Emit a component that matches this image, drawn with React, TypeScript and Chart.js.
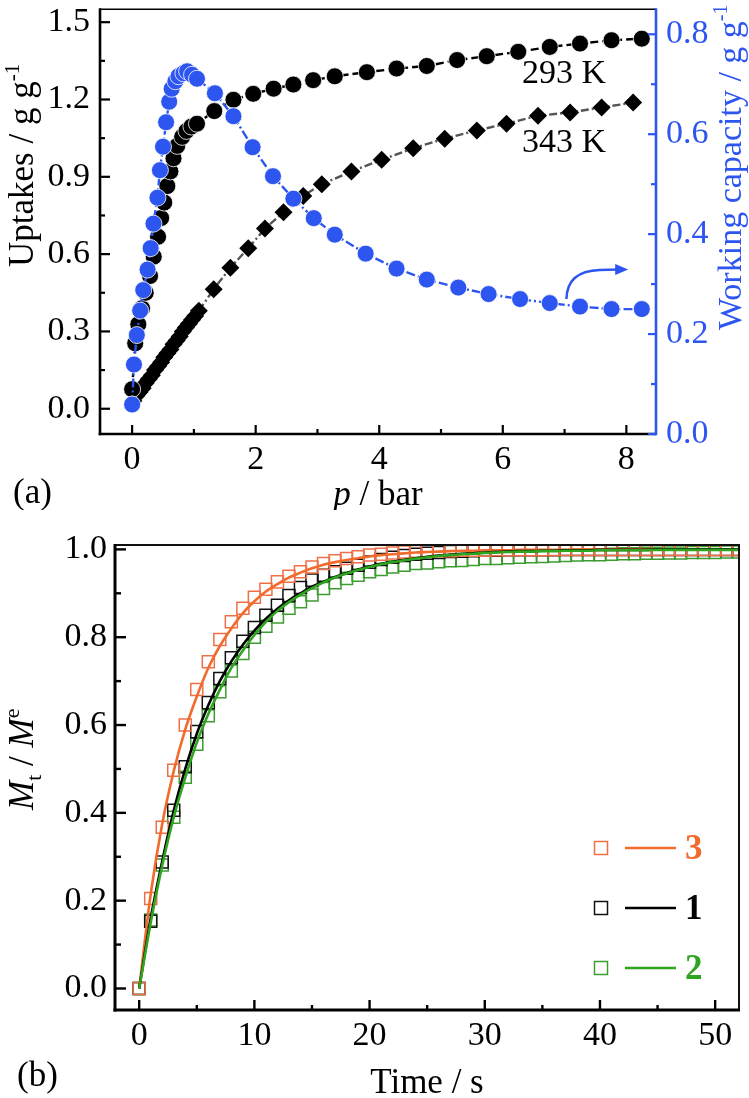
import React, { useEffect, useRef } from "react";
import { Chart, registerables } from "chart.js";

Chart.register(...registerables);

const FONT = "'Liberation Serif', 'Times New Roman', Times, serif";
const BLUE = "#2d55f0";
const ORANGE = "#f26a2c";
const ORANGE_SQ = "#ee7048";
const GREEN = "#2fa41f";
const GREEN_SQ = "#3c9c30";

// ---------- Panel (a) data ----------
const P_293 = [0.0, 0.05, 0.10, 0.16, 0.22, 0.29, 0.35, 0.42, 0.47, 0.52, 0.57, 0.62, 0.67, 0.73, 0.81, 0.88, 0.96, 1.05, 1.33, 1.64, 1.96, 2.29, 2.61, 2.93, 3.28, 3.8, 4.28, 4.77, 5.26, 5.74, 6.25, 6.76, 7.25, 7.76, 8.25];
const U_293 = [0.076, 0.254, 0.328, 0.39, 0.45, 0.515, 0.59, 0.667, 0.74, 0.80, 0.864, 0.921, 0.972, 1.02, 1.055, 1.078, 1.095, 1.106, 1.155, 1.199, 1.222, 1.242, 1.258, 1.275, 1.29, 1.306, 1.32, 1.33, 1.353, 1.368, 1.385, 1.404, 1.417, 1.43, 1.436];

const P_343 = [0.02, 0.07, 0.12, 0.17, 0.22, 0.27, 0.32, 0.37, 0.42, 0.47, 0.52, 0.57, 0.62, 0.67, 0.72, 0.77, 0.82, 0.87, 0.92, 0.97, 1.02, 1.08, 1.32, 1.59, 1.88, 2.15, 2.45, 2.77, 3.07, 3.55, 4.04, 4.55, 5.06, 5.58, 6.06, 6.57, 7.09, 7.6, 8.11];
const U_343 = [0.03, 0.05, 0.065, 0.08, 0.10, 0.115, 0.13, 0.15, 0.165, 0.18, 0.20, 0.215, 0.23, 0.25, 0.265, 0.28, 0.30, 0.315, 0.33, 0.345, 0.36, 0.38, 0.464, 0.547, 0.623, 0.699, 0.762, 0.826, 0.871, 0.921, 0.966, 1.011, 1.048, 1.08, 1.106, 1.137, 1.15, 1.169, 1.188];

const P_WC = [0.0, 0.03, 0.076, 0.13, 0.18, 0.25, 0.30, 0.345, 0.41, 0.45, 0.50, 0.55, 0.60, 0.64, 0.70, 0.75, 0.83, 0.89, 0.97, 1.05, 1.34, 1.64, 1.95, 2.28, 2.61, 2.94, 3.28, 3.78, 4.28, 4.77, 5.28, 5.77, 6.28, 6.76, 7.25, 7.76, 8.25];
const WC = [0.059, 0.139, 0.198, 0.247, 0.288, 0.329, 0.372, 0.421, 0.473, 0.528, 0.575, 0.624, 0.665, 0.691, 0.706, 0.716, 0.722, 0.726, 0.719, 0.711, 0.682, 0.636, 0.574, 0.516, 0.471, 0.432, 0.399, 0.361, 0.331, 0.309, 0.293, 0.28, 0.27, 0.262, 0.255, 0.25, 0.25];

const A_X_TICKS = [0, 2, 4, 6, 8];
const A_X_MINOR = [1, 3, 5, 7];
const A_Y_TICKS = [0, 0.3, 0.6, 0.9, 1.2, 1.5];
const A_Y_MINOR = [0.15, 0.45, 0.75, 1.05, 1.35];
const A_Y1_TICKS = [0, 0.2, 0.4, 0.6, 0.8];
const A_Y1_MINOR = [0.1, 0.3, 0.5, 0.7];

const LABEL_293 = { x: 6.31, y: 1.264, text: "293 K" };
const LABEL_343 = { x: 6.31, y: 0.997, text: "343 K" };
const ARROW_START = [7.03, 0.27];
const ARROW_CTRL = [7.04, 0.326];
const ARROW_MID = [7.57, 0.328];
const ARROW_TIP = [8.03, 0.329];

// ---------- Panel (b) data ----------
const TIME = [0, 1, 2, 3, 4, 5, 6, 7, 8, 9, 10, 11, 12, 13, 14, 15, 16, 17, 18, 19, 20, 21, 22, 23, 24, 25, 26, 27, 28, 29, 30, 31, 32, 33, 34, 35, 36, 37, 38, 39, 40, 41, 42, 43, 44, 45, 46, 47, 48, 49, 50, 51, 52];

const S3_DATA = [0, 0.205, 0.367, 0.497, 0.600, 0.681, 0.744, 0.795, 0.835, 0.866, 0.891, 0.909, 0.926,
  0.939, 0.949, 0.960, 0.968, 0.974, 0.979, 0.983, 0.987, 0.989, 0.992, 0.994,
  0.995, 0.996, 0.997, 0.997, 0.998, 0.998, 0.998, 0.999, 0.999, 0.999, 0.999, 0.999, 1.0, 1.0, 1.0, 1.0, 1.0, 1.0, 1.0, 1.0, 1.0, 1.0, 1.0, 1.0, 1.0, 1.0, 1.0, 1.0, 1.0];
const S1_DATA = [0, 0.153, 0.288, 0.406, 0.505, 0.585, 0.651, 0.706, 0.753, 0.791, 0.822, 0.850, 0.873,
  0.895, 0.913, 0.930, 0.941, 0.949, 0.957, 0.964, 0.971, 0.977, 0.982, 0.986,
  0.989, 0.991, 0.993, 0.995, 0.996, 0.997, 0.998, 0.998, 0.999, 0.999, 0.999, 0.999, 0.999, 1.0, 1.0, 1.0, 1.0, 1.0, 1.0, 1.0, 1.0, 1.0, 1.0, 1.0, 1.0, 1.0, 1.0, 1.0, 1.0];
const S2_DATA = [0, 0.156, 0.281, 0.390, 0.481, 0.556, 0.621, 0.676, 0.723, 0.763, 0.800, 0.825, 0.846,
  0.866, 0.881, 0.896, 0.911, 0.924, 0.934, 0.941, 0.949, 0.954, 0.960, 0.964, 0.968, 0.969, 0.972, 0.974, 0.975, 0.977, 0.979, 0.979,
  0.981, 0.982, 0.983, 0.984, 0.985, 0.986, 0.987, 0.988, 0.988, 0.989, 0.990, 0.990, 0.991, 0.991, 0.992, 0.992, 0.993, 0.993, 0.993, 0.994, 0.994];

const S3_FIT = [0, 0.215, 0.375, 0.495, 0.59, 0.665, 0.73, 0.78, 0.82, 0.855, 0.882, 0.904, 0.921,
  0.936, 0.947, 0.957, 0.965, 0.971, 0.976, 0.98, 0.984, 0.987, 0.989, 0.991,
  0.993, 0.994, 0.995, 0.996, 0.997, 0.997, 0.998, 0.998, 0.998, 0.999, 0.999, 0.999, 0.999, 0.999, 1.0, 1.0, 1.0, 1.0, 1.0, 1.0, 1.0, 1.0, 1.0, 1.0, 1.0, 1.0, 1.0, 1.0, 1.0];
const S1_FIT = [0, 0.16, 0.29, 0.405, 0.5, 0.58, 0.645, 0.70, 0.745, 0.783, 0.815, 0.842, 0.865,
  0.884, 0.90, 0.915, 0.926, 0.937, 0.946, 0.954, 0.961, 0.967, 0.972, 0.976,
  0.98, 0.983, 0.986, 0.988, 0.99, 0.991, 0.993, 0.994, 0.995, 0.996, 0.996, 0.997, 0.997, 0.998, 0.998, 0.998, 0.999, 0.999, 0.999, 0.999, 0.999, 1.0, 1.0, 1.0, 1.0, 1.0, 1.0, 1.0, 1.0];
const S2_FIT = [0, 0.15, 0.28, 0.39, 0.48, 0.56, 0.625, 0.68, 0.73, 0.77, 0.805, 0.835, 0.86,
  0.88, 0.897, 0.912, 0.925, 0.936, 0.945, 0.953, 0.96, 0.966, 0.971, 0.975,
  0.979, 0.982, 0.985, 0.987, 0.989, 0.99, 0.992, 0.993, 0.994, 0.995, 0.995, 0.996, 0.996, 0.997, 0.997, 0.997, 0.998, 0.998, 0.998, 0.998, 0.998, 0.999, 0.999, 0.999, 0.999, 0.999, 0.999, 0.999, 0.999];

const B_X_TICKS = [0, 10, 20, 30, 40, 50];
const B_X_MINOR = [5, 15, 25, 35, 45];
const B_Y_TICKS = [0, 0.2, 0.4, 0.6, 0.8, 1.0];
const B_Y_MINOR = [0.1, 0.3, 0.5, 0.7, 0.9];

const LEGEND_B = [
  { label: "3", color: ORANGE, sq: ORANGE_SQ },
  { label: "1", color: "#000", sq: "#111" },
  { label: "2", color: GREEN, sq: GREEN_SQ },
];

// ---------- helpers ----------
function seg(ctx: any, x1: number, y1: number, x2: number, y2: number) {
  ctx.beginPath();
  ctx.moveTo(x1, y1);
  ctx.lineTo(x2, y2);
  ctx.stroke();
}

function rotTitle(ctx: any, x: number, yBottom: number, parts: any[], color: string) {
  ctx.save();
  ctx.translate(x, yBottom);
  ctx.rotate(-Math.PI / 2);
  ctx.fillStyle = color;
  ctx.textAlign = "left";
  ctx.textBaseline = "alphabetic";
  let cx = 0;
  for (const p of parts) {
    ctx.font = p.font;
    ctx.fillText(p.text, cx, p.dy || 0);
    cx += ctx.measureText(p.text).width;
  }
  ctx.restore();
}

function pts(xs: number[], ys: number[]) {
  return xs.map((x, i) => ({ x, y: ys[i] }));
}

function fixedScale(ticks: number[], size: number, horizontal: boolean) {
  return {
    afterBuildTicks: (s: any) => {
      s.ticks = ticks.map((v) => ({ value: v }));
    },
    afterFit: (s: any) => {
      if (horizontal) s.height = size;
      else s.width = size;
      s.paddingTop = 0;
      s.paddingBottom = 0;
      s.paddingLeft = 0;
      s.paddingRight = 0;
    },
  };
}

const panelAPlugin = {
  id: "panelA",
  afterDraw(chart: any) {
    const { ctx, chartArea: ca, scales } = chart;
    const sx = scales.x, sy = scales.y, sy1 = scales.y1;
    ctx.save();
    ctx.lineCap = "butt";
    // frame
    ctx.strokeStyle = "#000";
    ctx.lineWidth = 1.6;
    seg(ctx, ca.left, ca.top, ca.right, ca.top);
    ctx.lineWidth = 2.6;
    seg(ctx, ca.left, ca.top - 1, ca.left, ca.bottom + 1.3);
    seg(ctx, ca.left - 1.3, ca.bottom, ca.right, ca.bottom);
    ctx.strokeStyle = BLUE;
    seg(ctx, ca.right, ca.top - 1, ca.right, ca.bottom + 1.3);
    // ticks
    ctx.lineWidth = 2.2;
    ctx.strokeStyle = "#000";
    A_X_TICKS.forEach((v) => { const p = sx.getPixelForValue(v); seg(ctx, p, ca.bottom, p, ca.bottom - 9); });
    A_X_MINOR.forEach((v) => { const p = sx.getPixelForValue(v); seg(ctx, p, ca.bottom, p, ca.bottom - 5); });
    A_Y_TICKS.forEach((v) => { const p = sy.getPixelForValue(v); seg(ctx, ca.left, p, ca.left + 10, p); });
    A_Y_MINOR.forEach((v) => { const p = sy.getPixelForValue(v); seg(ctx, ca.left, p, ca.left + 5, p); });
    ctx.strokeStyle = BLUE;
    A_Y1_TICKS.forEach((v) => { const p = sy1.getPixelForValue(v); seg(ctx, ca.right, p, ca.right - 8, p); });
    A_Y1_MINOR.forEach((v) => { const p = sy1.getPixelForValue(v); seg(ctx, ca.right, p, ca.right - 5, p); });

    // curve labels
    ctx.fillStyle = "#000";
    ctx.font = `34px ${FONT}`;
    ctx.textAlign = "left";
    ctx.textBaseline = "alphabetic";
    ctx.fillText(LABEL_293.text, sx.getPixelForValue(LABEL_293.x), sy.getPixelForValue(LABEL_293.y));
    ctx.fillText(LABEL_343.text, sx.getPixelForValue(LABEL_343.x), sy.getPixelForValue(LABEL_343.y));

    // arrow
    const P = (a: number[]) => [sx.getPixelForValue(a[0]), sy1.getPixelForValue(a[1])];
    const s = P(ARROW_START), c = P(ARROW_CTRL), m = P(ARROW_MID), t = P(ARROW_TIP);
    ctx.strokeStyle = BLUE;
    ctx.fillStyle = BLUE;
    ctx.lineWidth = 2.5;
    ctx.beginPath();
    ctx.moveTo(s[0], s[1]);
    ctx.quadraticCurveTo(c[0], c[1], m[0], m[1]);
    ctx.lineTo(t[0] - 10, t[1]);
    ctx.stroke();
    ctx.beginPath();
    ctx.moveTo(t[0], t[1]);
    ctx.lineTo(t[0] - 13, t[1] - 5.5);
    ctx.lineTo(t[0] - 13, t[1] + 5.5);
    ctx.closePath();
    ctx.fill();

    // axis titles
    rotTitle(ctx, 33, 267, [
      { text: "Uptakes / g g", font: `35px ${FONT}` },
      { text: "-1", font: `21px ${FONT}`, dy: -14 },
    ], "#000");
    rotTitle(ctx, 741, 330, [
      { text: "Working capacity / g g", font: `34px ${FONT}` },
      { text: "-1", font: `20px ${FONT}`, dy: -14 },
    ], BLUE);

    ctx.fillStyle = "#000";
    ctx.textBaseline = "alphabetic";
    ctx.font = `italic 35px ${FONT}`;
    const wP = ctx.measureText("p").width;
    ctx.font = `35px ${FONT}`;
    const wRest = ctx.measureText(" / bar").width;
    const cx = (ca.left + ca.right) / 2 - (wP + wRest) / 2;
    ctx.textAlign = "left";
    ctx.font = `italic 35px ${FONT}`;
    ctx.fillText("p", cx, 505);
    ctx.font = `35px ${FONT}`;
    ctx.fillText(" / bar", cx + wP, 505);
    ctx.fillText("(a)", 13, 503);
    ctx.restore();
  },
};

const panelBPlugin = {
  id: "panelB",
  afterDraw(chart: any) {
    const { ctx, chartArea: ca, scales } = chart;
    const sx = scales.x, sy = scales.y;
    ctx.save();
    ctx.lineCap = "butt";
    ctx.strokeStyle = "#111";
    ctx.lineWidth = 2;
    seg(ctx, ca.left, ca.top, ca.right, ca.top);
    seg(ctx, ca.right, ca.top - 1, ca.right, ca.bottom);
    ctx.strokeStyle = "#000";
    ctx.lineWidth = 3;
    seg(ctx, ca.left, ca.top - 1, ca.left, ca.bottom + 1.5);
    seg(ctx, ca.left - 1.5, ca.bottom, ca.right + 1, ca.bottom);
    ctx.lineWidth = 2.4;
    B_X_TICKS.forEach((v) => { const p = sx.getPixelForValue(v); seg(ctx, p, ca.bottom, p, ca.bottom - 10); });
    B_X_MINOR.forEach((v) => { const p = sx.getPixelForValue(v); seg(ctx, p, ca.bottom, p, ca.bottom - 5); });
    B_Y_TICKS.forEach((v) => { const p = sy.getPixelForValue(v); seg(ctx, ca.left, p, ca.left + 11, p); });
    B_Y_MINOR.forEach((v) => { const p = sy.getPixelForValue(v); seg(ctx, ca.left, p, ca.left + 6, p); });

    // legend
    LEGEND_B.forEach((e, i) => {
      const yy = ca.bottom - 162 + i * 60;
      ctx.strokeStyle = e.sq;
      ctx.lineWidth = 1.5;
      ctx.strokeRect(ca.right - 144.5, yy - 6.5, 13, 13);
      ctx.strokeStyle = e.color;
      ctx.lineWidth = 2.5;
      seg(ctx, ca.right - 114, yy, ca.right - 63, yy);
      ctx.fillStyle = e.color;
      ctx.font = `bold 35px ${FONT}`;
      ctx.textAlign = "left";
      ctx.textBaseline = "alphabetic";
      ctx.fillText(e.label, ca.right - 54, yy + 11);
    });

    // titles
    rotTitle(ctx, 33, 300, [
      { text: "M", font: `italic 35px ${FONT}` },
      { text: "t", font: `22px ${FONT}`, dy: 8 },
      { text: " / ", font: `35px ${FONT}` },
      { text: "M", font: `italic 35px ${FONT}` },
      { text: "e", font: `22px ${FONT}`, dy: -14 },
    ], "#000");
    ctx.fillStyle = "#000";
    ctx.font = `35px ${FONT}`;
    ctx.textAlign = "center";
    ctx.textBaseline = "alphabetic";
    ctx.fillText("Time / s", (ca.left + ca.right) / 2, 583);
    ctx.textAlign = "left";
    ctx.fillText("(b)", 17, 576);
    ctx.restore();
  },
};

const tickFont = { family: FONT, size: 34 };

function ChartA() {
  const ref = useRef<HTMLCanvasElement | null>(null);
  useEffect(() => {
    if (!ref.current) return;
    const chart = new Chart(ref.current, {
      type: "scatter",
      data: {
        datasets: [
          {
            label: "Working capacity",
            data: pts(P_WC, WC),
            yAxisID: "y1",
            showLine: true,
            borderColor: BLUE,
            borderWidth: 2.4,
            borderDash: [9, 3, 2, 3],
            pointStyle: "circle",
            pointRadius: 8.5,
            pointBackgroundColor: BLUE,
            pointBorderColor: "#ffffff",
            pointBorderWidth: 0.8,
            order: 0,
          },
          {
            label: "293 K",
            data: pts(P_293, U_293),
            yAxisID: "y",
            showLine: true,
            borderColor: "#000",
            borderWidth: 2.4,
            borderDash: [8, 4],
            pointStyle: "circle",
            pointRadius: 8.5,
            pointBackgroundColor: "#000",
            pointBorderColor: "#ffffff",
            pointBorderWidth: 0.8,
            order: 1,
          },
          {
            label: "343 K",
            data: pts(P_343, U_343),
            yAxisID: "y",
            showLine: true,
            borderColor: "#555",
            borderWidth: 2.4,
            borderDash: [8, 3, 2, 3],
            pointStyle: "rectRot",
            pointRadius: 9,
            pointBackgroundColor: "#000",
            pointBorderColor: "#000",
            pointBorderWidth: 0,
            order: 2,
          },
        ],
      } as any,
      options: {
        animation: false,
        responsive: false,
        events: [],
        layout: { padding: { top: 2, left: 0, right: 0, bottom: 0 } },
        plugins: { legend: { display: false }, tooltip: { enabled: false } },
        scales: {
          x: {
            type: "linear",
            position: "bottom",
            min: -0.52,
            max: 8.48,
            ...fixedScale(A_X_TICKS, 76, true),
            grid: { display: false, drawTicks: false },
            border: { display: false },
            ticks: { font: tickFont, color: "#000", padding: 6, maxRotation: 0, autoSkip: false, callback: (v: any) => String(v) },
          },
          y: {
            type: "linear",
            position: "left",
            min: -0.098,
            max: 1.55,
            ...fixedScale(A_Y_TICKS, 100, false),
            grid: { display: false, drawTicks: false },
            border: { display: false },
            ticks: { font: tickFont, color: "#000", padding: 10, autoSkip: false, callback: (v: any) => Number(v).toFixed(1) },
          },
          y1: {
            type: "linear",
            position: "right",
            min: 0,
            max: 0.85,
            ...fixedScale(A_Y1_TICKS, 93, false),
            grid: { display: false, drawTicks: false },
            border: { display: false },
            ticks: { font: tickFont, color: BLUE, padding: 10, autoSkip: false, callback: (v: any) => Number(v).toFixed(1) },
          },
        },
      } as any,
      plugins: [panelAPlugin],
    });
    return () => chart.destroy();
  }, []);
  return (
    <canvas
      ref={ref}
      width={749}
      height={510}
      style={{ position: "absolute", left: 0, top: 0, width: 749, height: 510 }}
    />
  );
}

function ChartB() {
  const ref = useRef<HTMLCanvasElement | null>(null);
  useEffect(() => {
    if (!ref.current) return;
    const sq = (ys: number[], color: string, order: number) => ({
      data: pts(TIME, ys),
      showLine: false,
      pointStyle: "rect",
      pointRadius: 8.5,
      pointBackgroundColor: "rgba(0,0,0,0)",
      pointBorderColor: color,
      pointBorderWidth: 1.5,
      order,
    });
    const fit = (ys: number[], color: string, order: number) => ({
      data: pts(TIME, ys),
      showLine: true,
      borderColor: color,
      borderWidth: 2.6,
      pointRadius: 0,
      tension: 0.4,
      cubicInterpolationMode: "monotone",
      order,
    });
    const chart = new Chart(ref.current, {
      type: "scatter",
      data: {
        datasets: [
          sq(S2_DATA, GREEN_SQ, 6),
          sq(S1_DATA, "#111", 5),
          sq(S3_DATA, ORANGE_SQ, 4),
          fit(S2_FIT, GREEN, 1),
          fit(S1_FIT, "#000", 2),
          fit(S3_FIT, ORANGE, 3),
        ],
      } as any,
      options: {
        animation: false,
        responsive: false,
        events: [],
        layout: { padding: { top: 35, left: 0, right: 8, bottom: 0 } },
        plugins: { legend: { display: false }, tooltip: { enabled: false } },
        scales: {
          x: {
            type: "linear",
            position: "bottom",
            min: -2.1,
            max: 52.07,
            ...fixedScale(B_X_TICKS, 88, true),
            grid: { display: false, drawTicks: false },
            border: { display: false },
            ticks: { font: tickFont, color: "#000", padding: 6, maxRotation: 0, autoSkip: false, callback: (v: any) => String(v) },
          },
          y: {
            type: "linear",
            position: "left",
            min: -0.049,
            max: 1.01,
            ...fixedScale(B_Y_TICKS, 115, false),
            grid: { display: false, drawTicks: false },
            border: { display: false },
            ticks: { font: tickFont, color: "#000", padding: 8, autoSkip: false, callback: (v: any) => Number(v).toFixed(1) },
          },
        },
      } as any,
      plugins: [panelBPlugin],
    });
    return () => chart.destroy();
  }, []);
  return (
    <canvas
      ref={ref}
      width={749}
      height={588}
      style={{ position: "absolute", left: 0, top: 510, width: 749, height: 588 }}
    />
  );
}

export default function App() {
  return (
    <div style={{ position: "absolute", left: 0, top: 0, width: 749, height: 1098, background: "#fff" }}>
      <ChartA />
      <ChartB />
    </div>
  );
}
